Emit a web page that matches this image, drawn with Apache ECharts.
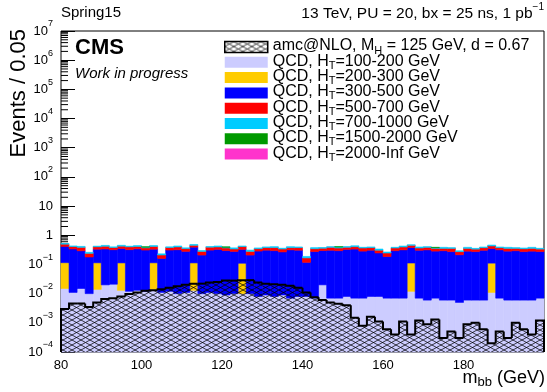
<!DOCTYPE html>
<html><head><meta charset="utf-8">
<script src="https://cdn.jsdelivr.net/npm/echarts@6/dist/echarts.min.js"></script>
<style>html,body{margin:0;padding:0;background:#fff}#c{width:547px;height:392px}</style>
</head><body><div id="c"></div>
<script>
// ---- binning / axes ----
const xMin = 80, xMax = 200, binWidth = 2;
const yMin = 1e-4, yMax = 1e7;
const xTickLabels = [80, 100, 120, 140, 160, 180];
const yTickLabels = ['{b|10}{sup|−4}','{b|10}{sup|−3}','{b|10}{sup|−2}','{b|10}{sup|−1}','{b|1}','{b|10}',
  '{b|10}{sup|2}','{b|10}{sup|3}','{b|10}{sup|4}','{b|10}{sup|5}','{b|10}{sup|6}','{b|10}{sup|7}'];

// ---- series values (per 2 GeV bin, 80..200) ----
const qcd100 = [0.015,0.011,0.015,0.010,0.014,0.020,0.021,0.013,0.012,0.013,
  0.012,0.014,0.011,0.012,0.010,0.011,0.013,0.010,0.011,0.010,
  0.009,0.010,0.010,0.010,0.008,0.009,0.008,0.009,0.007,0.008,
  0.008,0.007,0.020,0.007,0.007,0.008,0.007,0.007,0.008,0.008,
  0.007,0.007,0.007,0.012,0.007,0.006,0.007,0.006,0.006,0.005,
  0.006,0.006,0.006,0.011,0.007,0.006,0.006,0.006,0.006,0.007];
const qcd200 = [0.1,0,0,0,0.1,0,0,0.1,0,0,
  0,0.1,0,0,0,0,0.1,0,0,0,
  0,0,0.1,0,0,0,0,0,0,0,
  0,0,0,0,0,0,0,0,0,0,
  0,0,0,0.1,0,0,0,0,0,0,
  0,0,0,0.1,0,0,0,0,0,0];
const qcd300 = [0.30,0.33,0.28,0.17,0.22,0.32,0.30,0.24,0.31,0.33,
  0.30,0.22,0.15,0.30,0.31,0.27,0.28,0.20,0.30,0.32,
  0.29,0.27,0.22,0.20,0.28,0.30,0.29,0.26,0.31,0.30,
  0.11,0.27,0.28,0.30,0.29,0.32,0.33,0.28,0.30,0.24,
  0.18,0.29,0.31,0.27,0.30,0.31,0.28,0.29,0.27,0.21,
  0.28,0.27,0.30,0.24,0.31,0.28,0.29,0.27,0.28,0.27];
const qcd500 = [0.08,0.07,0.09,0.06,0.07,0.08,0.06,0.07,0.08,0.07,
  0.06,0.08,0.05,0.07,0.08,0.07,0.06,0.07,0.08,0.07,
  0.07,0.06,0.08,0.07,0.06,0.07,0.08,0.07,0.06,0.07,
  0.05,0.07,0.06,0.08,0.07,0.06,0.07,0.08,0.07,0.06,
  0.06,0.07,0.08,0.07,0.06,0.07,0.07,0.06,0.08,0.06,
  0.07,0.06,0.07,0.08,0.06,0.07,0.06,0.07,0.07,0.06];
const qcd700 = [0.03,0.02,0.03,0.02,0.02,0.03,0.02,0.03,0.02,0.03,
  0.02,0.03,0.02,0.02,0.03,0.02,0.03,0.02,0.02,0.03,
  0.02,0.03,0.02,0.03,0.02,0.02,0.03,0.02,0.03,0.02,
  0.02,0.03,0.02,0.02,0.03,0.02,0.03,0.02,0.02,0.03,
  0.02,0.02,0.03,0.02,0.03,0.02,0.02,0.03,0.02,0.02,
  0.03,0.02,0.02,0.03,0.02,0.03,0.02,0.02,0.03,0.02];
const qcd1500 = [0,0,0,0,0,0,0,0,0,0,
  0.012,0,0,0,0,0,0,0,0,0,
  0.012,0,0,0,0,0,0,0,0,0,
  0,0,0,0,0.01,0,0,0,0,0,
  0,0,0,0,0,0,0.01,0,0,0,
  0,0,0,0,0,0,0,0,0,0];
const qcd2000 = [0,0,0,0,0,0,0,0,0,0, 0,0,0,0,0,0,0,0,0,0, 0,0,0,0,0,0,0,0,0,0,
  0,0,0,0,0,0,0,0,0,0, 0,0,0,0,0,0,0,0,0,0, 0,0,0,0,0,0,0,0,0,0];
const signal = [0.0030,0.0046,0.0046,0.0035,0.0050,0.0065,0.0070,0.0080,0.0097,0.0110,
  0.0126,0.0130,0.0140,0.0160,0.0180,0.0200,0.0220,0.0220,0.0240,0.0250,
  0.0280,0.0280,0.0290,0.0290,0.0240,0.0220,0.0210,0.0200,0.0186,0.0160,
  0.0110,0.0075,0.0060,0.0050,0.0045,0.0040,0.0015,0.0008,0.0016,0.0011,
  0.0006,0.0004,0.0011,0.0004,0.0012,0.0009,0.0013,0.0003,0.0005,0.0003,
  0.0009,0.0010,0.0006,0.0002,0.0005,0.0003,0.0010,0.0006,0.0004,0.0012];

const names = ['amc@NLO, M_H = 125 GeV, d = 0.67','QCD, HT=100-200 GeV','QCD, HT=200-300 GeV','QCD, HT=300-500 GeV',
  'QCD, HT=500-700 GeV','QCD, HT=700-1000 GeV','QCD, HT=1500-2000 GeV','QCD, HT=2000-Inf GeV'];
const legendLabels = ['{n|amc@NLO, M}{s|H}{n| = 125 GeV, d = 0.67}','{n|QCD, H}{s|T}{n|=100-200 GeV}','{n|QCD, H}{s|T}{n|=200-300 GeV}',
  '{n|QCD, H}{s|T}{n|=300-500 GeV}','{n|QCD, H}{s|T}{n|=500-700 GeV}','{n|QCD, H}{s|T}{n|=700-1000 GeV}',
  '{n|QCD, H}{s|T}{n|=1500-2000 GeV}','{n|QCD, H}{s|T}{n|=2000-Inf GeV}'];
const stackValues = [qcd100, qcd200, qcd300, qcd500, qcd700, qcd1500, qcd2000];
const stackColors = ['#ccccff','#ffcc00','#0000ff','#ff0000','#00ccff','#009900','#ff33cc'];

// ---- hatch pattern ----
function makeHatch(){
  const W = 36, H = 20, px = 9;
  const c = document.createElement('canvas');
  c.width = W; c.height = H;
  const g = c.getContext('2d');
  g.strokeStyle = '#000'; g.lineWidth = 0.75;
  const s = H / W;
  for (let k = -2*W; k <= 2*W; k += px){
    g.beginPath(); g.moveTo(k - W, -s*W); g.lineTo(k + 2*W, s*2*W); g.stroke();
    g.beginPath(); g.moveTo(k - W, H + s*W); g.lineTo(k + 2*W, H - s*2*W); g.stroke();
  }
  return c;
}
const hatch = {image: makeHatch(), repeat: 'repeat'};

// ---- build stacked layers ----
const nBins = qcd100.length;
let cum = new Array(nBins).fill(0);
const series = [];
const minorTickVals = [];
for (let e = -4; e < 7; e++) for (let m = 2; m <= 9; m++) minorTickVals.push(m * Math.pow(10, e));
series.push({
  type:'custom', name:'minorTicks', silent:true, z:1,
  data: minorTickVals.map(v => [xMin, v]),
  renderItem(params, api){
    const p = api.coord([api.value(0), api.value(1)]);
    return {type:'line', shape:{x1:p[0], y1:p[1], x2:p[0]+7, y2:p[1]}, style:{stroke:'#000', lineWidth:1}};
  }
});
stackValues.forEach((vals, j) => {
  const data = vals.map((v, i) => {
    const b = cum[i], t = cum[i] + v;
    cum[i] = t;
    return [xMin + i*binWidth, xMin + (i+1)*binWidth, Math.max(b, yMin), Math.max(t, yMin)];
  });
  const col = stackColors[j];
  series.push({
    type:'custom', name: names[j+1], itemStyle:{color: col},
    encode:{x:[0,1], y:[2,3]},
    data,
    renderItem(params, api){
      const b = api.value(2), t = api.value(3);
      if (!(t > b)) return null;
      const p0 = api.coord([api.value(0), b]);
      const p1 = api.coord([api.value(1), t]);
      return {type:'rect', shape:{x:p0[0], y:p1[1], width:p1[0]-p0[0], height:p0[1]-p1[1]},
        style:{fill: col, stroke: col, lineWidth: 0.6}};
    }
  });
});
series.push({
  type:'custom', name: names[0], itemStyle:{color: hatch, borderColor:'#000', borderWidth:1.5},
  encode:{x:[0,1], y:[2,3]},
  data: signal.map((v, i) => [xMin + i*binWidth, xMin + (i+1)*binWidth, Math.max(v, yMin), i > 0 ? Math.max(signal[i-1], yMin) : yMin]),
  renderItem(params, api){
    const x0 = api.value(0), x1 = api.value(1), v = api.value(2), pv = api.value(3);
    const pb = api.coord([x0, yMin]);
    const pt = api.coord([x1, v]);
    const pp = api.coord([x0, pv]);
    const pts = [[pb[0], pp[1]], [pb[0], pt[1]], [pt[0], pt[1]]];
    if (params.dataIndex === nBins - 1) pts.push([pt[0], pb[1]]);
    return {type:'group', children:[
      {type:'rect', shape:{x:pb[0], y:pt[1], width:pt[0]-pb[0], height:pb[1]-pt[1]}, style:{fill: hatch}},
      {type:'polyline', shape:{points: pts}, style:{stroke:'#000', lineWidth:2, fill:null}}
    ]};
  }
});

const FONT = 'Liberation Sans';
const chart = echarts.init(document.getElementById('c'), null, {renderer:'canvas'});
chart.setOption({
  animation:false,
  backgroundColor:'#fff',
  grid:{left:61, right:2, top:31, bottom:40, show:true, borderColor:'#000', borderWidth:1, backgroundColor:'#fff'},
  xAxis:{type:'value', min:xMin, max:xMax, interval:20,
    axisLine:{show:false}, axisTick:{show:false}, splitLine:{show:false},
    axisLabel:{color:'#000', fontFamily:FONT, fontSize:13, margin:7,
      formatter: v => xTickLabels.indexOf(v) >= 0 ? String(v) : ''}},
  yAxis:{type:'log', logBase:10, min:yMin, max:yMax, interval:1,
    axisLine:{show:false}, splitLine:{show:false},
    axisTick:{show:true, inside:true, length:14, lineStyle:{color:'#000', width:1}},
    axisLabel:{color:'#000', fontFamily:FONT, margin:8,
      formatter: v => yTickLabels[Math.round(Math.log10(v)) + 4],
      rich:{b:{fontFamily:FONT, fontSize:13, color:'#000', padding:[5,0,5,0], verticalAlign:'top'},
            sup:{fontFamily:FONT, fontSize:9, color:'#000', verticalAlign:'top'}}}},
  legend:{orient:'vertical', left:219, top:33, itemWidth:43, itemHeight:11, itemGap:-2.7, icon:'rect',
    selectedMode:false,
    data: names.map((n, i) => i === 0 ? {name:n, itemStyle:{borderColor:'#000', borderWidth:1.5}} : {name:n}),
    formatter: name => legendLabels[names.indexOf(name)],
    textStyle:{fontFamily:FONT, fontSize:16, color:'#000',
      rich:{n:{fontFamily:FONT, fontSize:16, color:'#000', verticalAlign:'top'},
            s:{fontFamily:FONT, fontSize:11, color:'#000', verticalAlign:'top', padding:[7,0,0,0]}}}},
  graphic:[
    {type:'text', left:61, top:5, style:{text:'Spring15', font:'15px "Liberation Sans"', fill:'#000'}},
    {type:'text', right:3, top:2, style:{text:'{n|13 TeV, PU = 20, bx = 25 ns, 1 pb}{s|−1}', fill:'#000',
      rich:{n:{fontFamily:FONT, fontSize:15.5, padding:[4,0,0,0], verticalAlign:'top'}, s:{fontFamily:FONT, fontSize:10, verticalAlign:'top'}}}},
    {type:'text', left:75, top:37, style:{text:'CMS', font:'bold 22px "Liberation Sans"', fill:'#000'}},
    {type:'text', left:75, top:66, style:{text:'Work in progress', font:'italic 15px "Liberation Sans"', fill:'#000'}},
    {type:'text', x:8, y:29, rotation:Math.PI/2, style:{text:'Events / 0.05', font:'22px "Liberation Sans"', fill:'#000', align:'right', verticalAlign:'top'}},
    {type:'text', right:2, top:369, style:{text:'{n|m}{s|bb}{n| (GeV)}', fill:'#000',
      rich:{n:{fontFamily:FONT, fontSize:18, verticalAlign:'top'}, s:{fontFamily:FONT, fontSize:13, verticalAlign:'top', padding:[7,0,0,0]}}}}
  ],
  series
});
</script></body></html>
